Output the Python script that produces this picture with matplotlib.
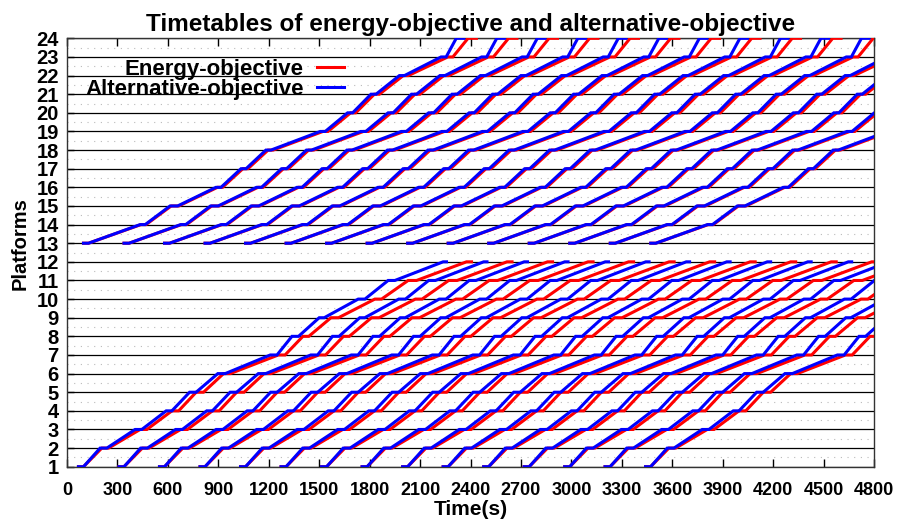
import matplotlib
matplotlib.use("Agg")
import matplotlib.pyplot as plt
import numpy as np

# ---------------------------------------------------------------------
# Data (seconds)
# ---------------------------------------------------------------------
lower_platforms = list(range(1, 13))
upper_platforms = list(range(13, 25))

# departure of each train at its first platform
lower_start = [68, 309, 550, 791, 1032, 1273, 1514, 1755, 1996, 2237, 2478, 2719, 2960, 3200, 3441]
upper_start = [98, 339, 580, 821, 1062, 1303, 1544, 1785, 2026, 2267, 2508, 2749, 2990, 3231, 3472]

# run times between consecutive platforms and dwell times at each platform
lower_run_energy   = [109, 188, 149, 104, 119, 286, 106, 132, 216, 158, 297]
lower_dwell_energy = [30, 40, 40, 40, 44, 40, 40, 35, 45, 40, 50, 30]
lower_run_alt      = [99, 168, 145, 105, 129, 268, 89, 123, 202, 138, 287]
lower_dwell_alt    = [30, 40, 40, 34, 39, 44, 40, 39, 30, 40, 40, 20]

upper_run_energy   = [312, 150, 230, 121, 120, 296, 135, 111, 142, 235, 90]
upper_dwell_energy = [30, 30, 45, 30, 30, 30, 30, 30, 30, 30, 30, 50]
upper_run_alt      = [307, 148, 228, 119, 118, 293, 133, 109, 139, 218, 60]
upper_dwell_alt    = [30, 30, 45, 30, 30, 30, 30, 30, 30, 30, 30, 45]

x_ticks = list(range(0, 4801, 300))
y_ticks = list(range(1, 25))


# ---------------------------------------------------------------------
def train_path(t0, platforms, dwell, run):
    xs, ys = [], []
    t = t0
    for i, p in enumerate(platforms):
        xs += [t, t + dwell[i]]
        ys += [p, p]
        t += dwell[i]
        if i < len(run):
            t += run[i]
    return xs, ys


plt.rcParams["font.family"] = ["Liberation Sans", "DejaVu Sans"]
plt.rcParams["font.weight"] = "bold"

fig = plt.figure(figsize=(8.97, 5.25), dpi=100)
ax = fig.add_axes([0.0747, 0.111, 0.8997, 0.816])

# grid: solid at platforms, dotted half way
for y in y_ticks:
    ax.axhline(y, color="black", lw=0.9, zorder=1)
for y in np.arange(1.5, 24, 1.0):
    ax.axhline(y, color="#bbbbbb", lw=0.8, ls=(0, (1, 5)), zorder=1)

series = [
    ("Energy-objective", "#ff0000",
     [(lower_start, lower_platforms, lower_dwell_energy, lower_run_energy),
      (upper_start, upper_platforms, upper_dwell_energy, upper_run_energy)]),
    ("Alternative-objective", "#0000ff",
     [(lower_start, lower_platforms, lower_dwell_alt, lower_run_alt),
      (upper_start, upper_platforms, upper_dwell_alt, upper_run_alt)]),
]
for z, (label, color, groups) in enumerate(series):
    first = True
    for starts, plats, dwell, run in groups:
        for t0 in starts:
            xs, ys = train_path(t0, plats, dwell, run)
            ax.plot(xs, ys, color=color, lw=2.2, solid_joinstyle="miter",
                    label=label if first else None, zorder=3 + z)
            first = False

ax.set_xlim(0, 4800)
ax.set_ylim(1, 24)
ax.set_xticks(x_ticks)
ax.set_yticks(y_ticks)
ax.tick_params(axis="x", direction="in", length=6, pad=11, labelsize=13,
               top=True, width=1)
ax.tick_params(axis="y", direction="in", length=5, pad=6, labelsize=14.5, width=1)
for lab in ax.get_xticklabels() + ax.get_yticklabels():
    lab.set_fontweight("bold")
for s in ax.spines.values():
    s.set_linewidth(1.0)
    s.set_color("#333333")

ax.set_xlabel("Time(s)", fontsize=15, fontweight="bold", labelpad=1)
ax.set_ylabel("Platforms", fontsize=14.5, fontweight="bold")
ax.yaxis.set_label_coords(-0.046, 0.52)
ax.set_title("Timetables of energy-objective and alternative-objective",
             fontsize=17.5, fontweight="bold", pad=5)

leg = ax.legend(loc="upper right", bbox_to_anchor=(0.343, 0.952),
                markerfirst=False, frameon=False,
                handlelength=1.2, handletextpad=0.6, labelspacing=-0.05,
                borderpad=0, borderaxespad=0, prop={"weight": "bold", "size": 16})
leg.set_zorder(10)

fig.savefig("out.png", dpi=100)
